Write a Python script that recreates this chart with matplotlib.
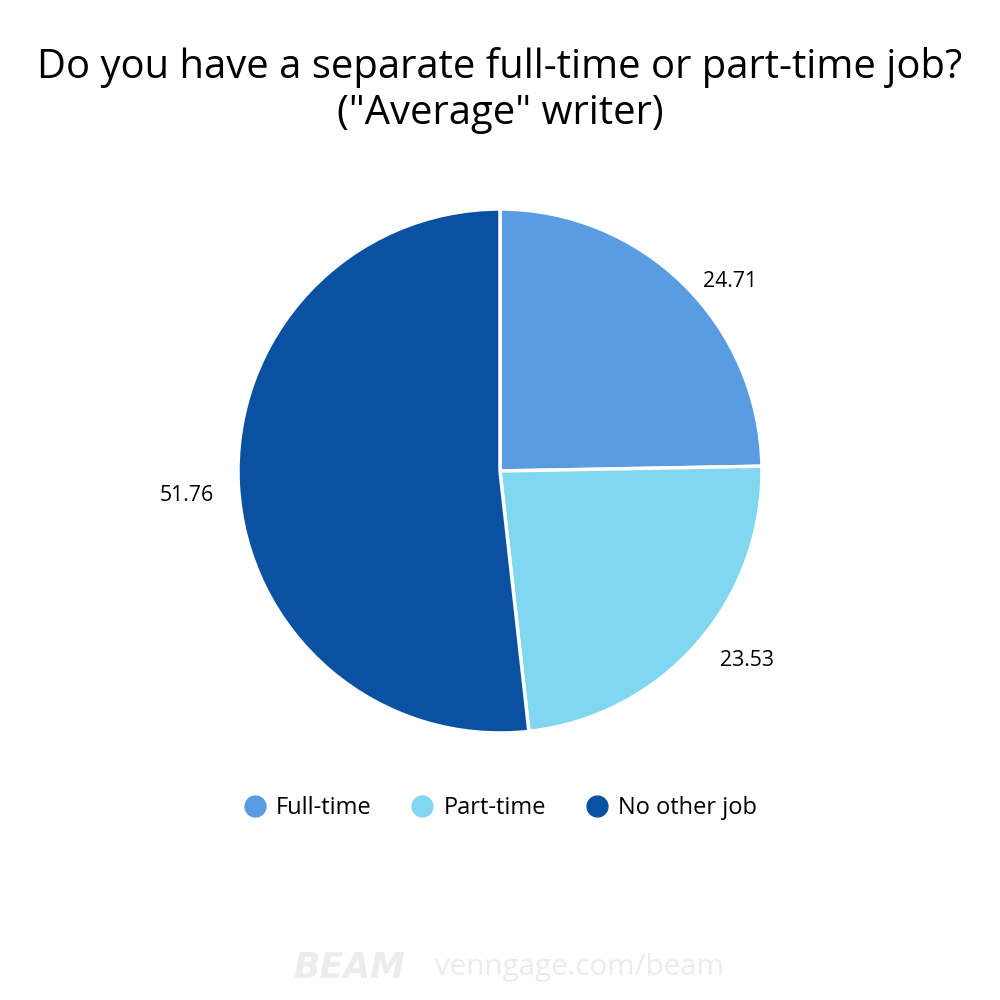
import numpy as np
import matplotlib.pyplot as plt
from matplotlib.lines import Line2D

plt.rcParams['font.family'] = ['Open Sans', 'DejaVu Sans']

categories = ['Full-time', 'Part-time', 'No other job']
values = [24.71, 23.53, 51.76]
colors = ['#5A9CE1', '#80D7EF', '#0A52A1']
title = 'Do you have a separate full-time or part-time job?\n("Average" writer)'

fig = plt.figure(figsize=(10, 10), dpi=100)
fig.patch.set_facecolor('white')

# pie axes placed so the pie sits where it is in the reference
ax = fig.add_axes([0.238, 0.267, 0.524, 0.524])
wedges, texts = ax.pie(values, colors=colors, startangle=90, counterclock=False,
                       labels=['%.2f' % v for v in values], labeldistance=1.12,
                       wedgeprops=dict(edgecolor='white', linewidth=2.5),
                       textprops=dict(fontsize=15.3, color='black'))
# small nudges so labels sit like the original
label_dx = [-0.008, 0.0, 0.028]
label_dy = [-0.075, 0.015, -0.03]
for t, dx, dy in zip(texts, label_dx, label_dy):
    x, y = t.get_position()
    t.set_position((x + dx, y + dy))
ax.set_xlim(-1, 1)
ax.set_ylim(-1, 1)
ax.set_aspect('equal')
ax.axis('off')

fig.text(0.5, 0.9095, title, ha='center', va='center', fontsize=28.8, color='black',
         linespacing=1.15)

handles = [Line2D([], [], marker='o', linestyle='none', markersize=15,
                  markerfacecolor=c, markeredgecolor=c) for c in colors]
fig.legend(handles, categories, loc='center', bbox_to_anchor=(0.5, 0.192), ncol=3,
           frameon=False, fontsize=17, handlelength=1.0, handletextpad=0.4,
           columnspacing=1.65)

# watermark
fig.text(0.405, 0.032, 'BEAM', ha='right', va='center', fontsize=25, fontweight='bold',
         fontstyle='italic', color='#ECECEC', family='DejaVu Sans')
fig.text(0.435, 0.032, 'venngage.com/beam', ha='left', va='center', fontsize=21.3,
         color='#ECECEC')

fig.savefig('out.png', dpi=100, facecolor='white')
